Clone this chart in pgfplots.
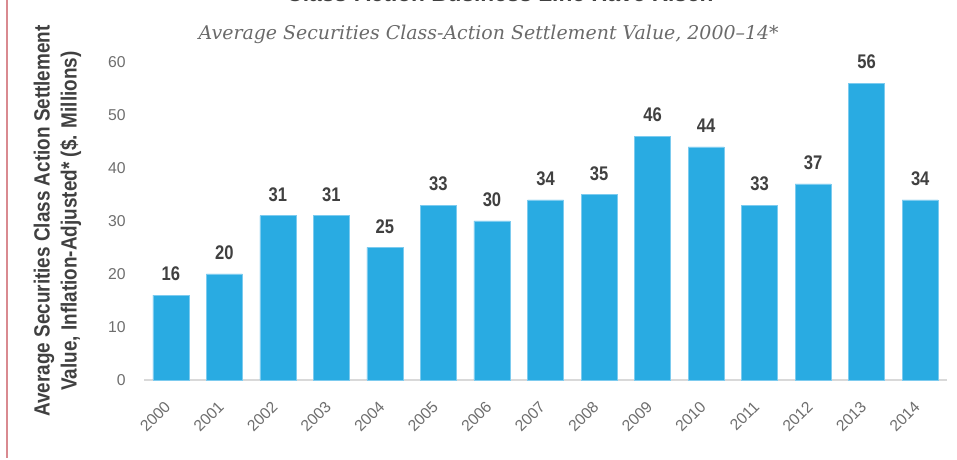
\documentclass[border=0pt]{standalone}
\usepackage{pgfplots}
\pgfplotsset{compat=1.18}
\usepackage{fontspec}
\setmainfont{Liberation Sans}
\newfontfamily\narrowfont[FakeStretch=0.84]{Liberation Sans}
\newfontfamily\labelfont[FakeStretch=0.86]{Liberation Sans}
\newfontfamily\titlefont{DejaVu Serif}
\definecolor{barblue}{HTML}{29ABE2}
\definecolor{baredge}{HTML}{7CCBEF}
\definecolor{darktext}{HTML}{404040}
\definecolor{ticktext}{HTML}{6E6E6E}
\definecolor{titlegray}{HTML}{6A6A6A}
\definecolor{axisgray}{HTML}{D9D9D9}
\definecolor{pinkline}{HTML}{D98A90}
\begin{document}
\begin{tikzpicture}
\useasboundingbox (0,0) rectangle (717.75pt,345pt);
% decorative left rule
\draw[pinkline, line width=1.3pt] (5.3pt,345pt) -- (5.3pt,1.5pt);
% cut-off main title
\node[anchor=base, inner sep=0, text=darktext, font=\bfseries\fontsize{17pt}{19pt}\selectfont] at (375pt,343.6pt) {Class-Action Business Line Have Risen};
% subtitle
\node[anchor=center, inner sep=0, text=titlegray, font=\titlefont\itshape\fontsize{14.2pt}{17pt}\selectfont] at (366.5pt,319.5pt) {Average Securities Class-Action Settlement Value, 2000–14*};
\begin{axis}[
  at={(108pt,60pt)}, anchor=south west,
  scale only axis,
  width=602.25pt, height=238.5pt,
  xmin=-0.5, xmax=14.5, ymin=0, ymax=60,
  ybar, bar width=27pt,
  axis x line*=bottom, axis y line*=left,
  x axis line style={-, draw=axisgray, line width=1.5pt},
  y axis line style={draw=none},
  major tick length=0pt,
  xtick=data,
  xticklabels={2000,2001,2002,2003,2004,2005,2006,2007,2008,2009,2010,2011,2012,2013,2014},
  ytick={0,10,20,30,40,50,60},
  /pgf/number format/assume math mode=true,
  tick label style={font=\fontsize{11.8pt}{13pt}\selectfont, text=ticktext},
  xticklabel style={rotate=45, anchor=east, inner sep=0pt, xshift=-14.3pt, yshift=-11.1pt},
  yticklabel style={anchor=east, inner sep=0pt, xshift=-13.5pt},
  ylabel={Average Securities Class Action Settlement\\Value, Inflation-Adjusted* (\$. Millions)},
  ylabel style={at={(axis description cs:-0.1077,0.5)}, anchor=center, align=center, text=darktext,
    font=\labelfont\bfseries\fontsize{16.5pt}{20.25pt}\selectfont},
  nodes near coords,
  nodes near coords style={font=\narrowfont\bfseries\fontsize{14.8pt}{16pt}\selectfont, text=darktext, anchor=south, inner sep=0pt, yshift=10.5pt},
  clip=false,
]
\addplot[fill=barblue, draw=baredge, line width=0.4pt] coordinates {
(0,16) (1,20) (2,31) (3,31) (4,25) (5,33) (6,30) (7,34) (8,35) (9,46) (10,44) (11,33) (12,37) (13,56) (14,34)
};
\end{axis}
\end{tikzpicture}
\end{document}
